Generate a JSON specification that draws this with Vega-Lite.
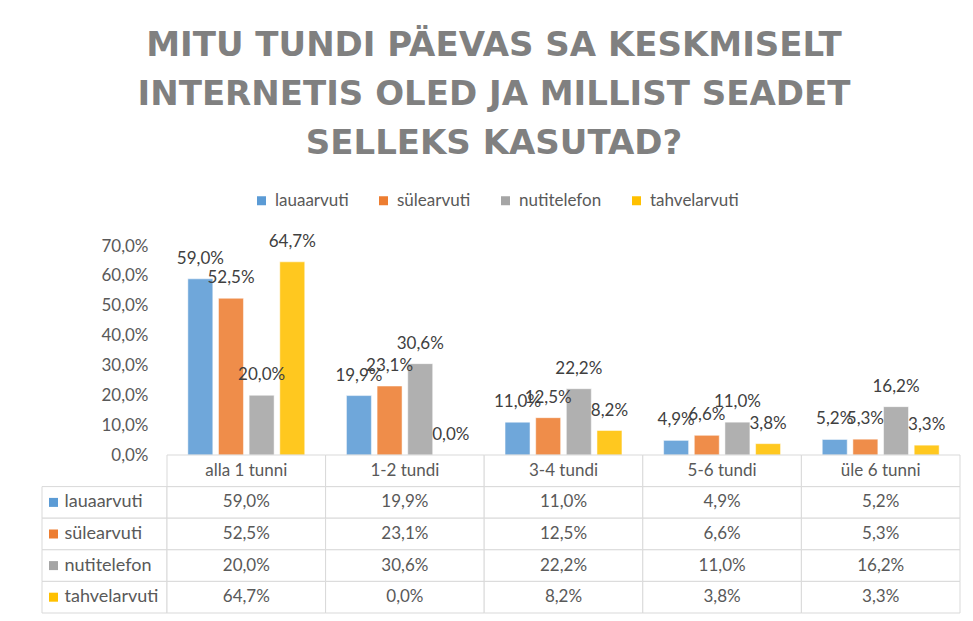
{
  "$schema": "https://vega.github.io/schema/vega-lite/v6.json",
  "background": "white",
  "padding": {"left": 41, "top": 29, "right": 14, "bottom": 9},
  "columns": 2,
  "spacing": 0,
  "bounds": "flush",
  "config": {
    "locale": {"number": {"decimal": ",", "thousands": " ", "grouping": [3], "currency": ["", " €"]}},
    "view": {"stroke": null},
    "font": "Lato"
  },
  "title": {
    "text": ["MITU TUNDI PÄEVAS SA KESKMISELT", "INTERNETIS OLED JA MILLIST SEADET", "SELLEKS KASUTAD?"],
    "font": "DejaVu Sans",
    "fontSize": 34,
    "fontWeight": "bold",
    "color": "#808080",
    "lineHeight": 49,
    "anchor": "middle",
    "dx": -7,
    "offset": 31
  },
  "data": {
    "values": [
      {"cat": "alla 1 tunni", "series": "lauaarvuti", "value": 0.590},
      {"cat": "1-2 tundi", "series": "lauaarvuti", "value": 0.199},
      {"cat": "3-4 tundi", "series": "lauaarvuti", "value": 0.110},
      {"cat": "5-6 tundi", "series": "lauaarvuti", "value": 0.049},
      {"cat": "üle 6 tunni", "series": "lauaarvuti", "value": 0.052},
      {"cat": "alla 1 tunni", "series": "sülearvuti", "value": 0.525},
      {"cat": "1-2 tundi", "series": "sülearvuti", "value": 0.231},
      {"cat": "3-4 tundi", "series": "sülearvuti", "value": 0.125},
      {"cat": "5-6 tundi", "series": "sülearvuti", "value": 0.066},
      {"cat": "üle 6 tunni", "series": "sülearvuti", "value": 0.053},
      {"cat": "alla 1 tunni", "series": "nutitelefon", "value": 0.200},
      {"cat": "1-2 tundi", "series": "nutitelefon", "value": 0.306},
      {"cat": "3-4 tundi", "series": "nutitelefon", "value": 0.222},
      {"cat": "5-6 tundi", "series": "nutitelefon", "value": 0.110},
      {"cat": "üle 6 tunni", "series": "nutitelefon", "value": 0.162},
      {"cat": "alla 1 tunni", "series": "tahvelarvuti", "value": 0.647},
      {"cat": "1-2 tundi", "series": "tahvelarvuti", "value": 0.000},
      {"cat": "3-4 tundi", "series": "tahvelarvuti", "value": 0.082},
      {"cat": "5-6 tundi", "series": "tahvelarvuti", "value": 0.038},
      {"cat": "üle 6 tunni", "series": "tahvelarvuti", "value": 0.033}
    ]
  },
  "concat": [
    {
      "width": 125,
      "height": 209,
      "transform": [{"filter": "false"}],
      "mark": {"type": "rect", "opacity": 0},
      "encoding": {}
    },
    {
      "width": 793,
      "height": 209,
      "encoding": {
        "x": {"field": "cat", "type": "nominal", "scale": {"domain": ["alla 1 tunni", "1-2 tundi", "3-4 tundi", "5-6 tundi", "üle 6 tunni"], "paddingInner": 0, "paddingOuter": 0}, "axis": null},
        "xOffset": {"field": "series", "type": "nominal", "scale": {"domain": ["lauaarvuti", "sülearvuti", "nutitelefon", "tahvelarvuti"], "paddingInner": 0.185, "paddingOuter": 0.68}},
        "y": {"field": "value", "type": "quantitative", "scale": {"domain": [0, 0.7], "nice": false},
          "axis": {"title": null, "format": ".1%", "values": [0, 0.1, 0.2, 0.3, 0.4, 0.5, 0.6, 0.7], "domain": false, "ticks": false, "grid": false, "labelFontSize": 17, "labelColor": "#595959", "labelPadding": 19}}
      },
      "layer": [
        {
          "mark": {"type": "bar", "fillOpacity": 0.88, "stroke": "white", "strokeOpacity": 0.5, "strokeWidth": 1},
          "encoding": {
            "color": {"field": "series", "type": "nominal",
              "scale": {"domain": ["lauaarvuti", "sülearvuti", "nutitelefon", "tahvelarvuti"], "range": ["#5B9BD5", "#ED7D31", "#A5A5A5", "#FFC000"]},
              "legend": {"orient": "none", "legendX": 211, "legendY": -54, "direction": "horizontal", "title": null, "symbolType": "square", "symbolSize": 81, "symbolStrokeWidth": 0, "labelFontSize": 17, "labelColor": "#595959", "columnPadding": 26, "labelOffset": 5}}
          }
        },
        {
          "mark": {"type": "text", "baseline": "alphabetic", "dy": -15, "fontSize": 17, "color": "#404040"},
          "encoding": {"text": {"field": "value", "type": "quantitative", "format": ".1%"}}
        }
      ]
    },
    {
      "width": 125,
      "height": 158,
      "transform": [{"aggregate": [{"op": "count", "as": "n"}], "groupby": ["series"]}],
      "encoding": {
        "y": {"field": "series", "type": "nominal", "scale": {"domain": ["hdr", "lauaarvuti", "sülearvuti", "nutitelefon", "tahvelarvuti"], "paddingInner": 0, "paddingOuter": 0}, "axis": null}
      },
      "layer": [
        {"mark": {"type": "rect", "fill": "white", "stroke": "#D9D9D9", "strokeWidth": 1}},
        {"mark": {"type": "square", "size": 81, "opacity": 1, "filled": true, "xOffset": -51}, "encoding": {"color": {"field": "series", "type": "nominal"}}},
        {"mark": {"type": "text", "align": "left", "dx": -40, "fontSize": 18, "color": "#595959"}, "encoding": {"text": {"field": "series", "type": "nominal"}}}
      ]
    },
    {
      "width": 793,
      "height": 158,
      "encoding": {
        "x": {"field": "cat", "type": "nominal", "scale": {"domain": ["alla 1 tunni", "1-2 tundi", "3-4 tundi", "5-6 tundi", "üle 6 tunni"], "paddingInner": 0, "paddingOuter": 0}, "axis": null}
      },
      "layer": [
        {
          "encoding": {"y": {"field": "series", "type": "nominal", "scale": {"domain": ["hdr", "lauaarvuti", "sülearvuti", "nutitelefon", "tahvelarvuti"], "paddingInner": 0, "paddingOuter": 0}, "axis": null}},
          "layer": [
            {"mark": {"type": "rect", "fill": "white", "stroke": "#D9D9D9", "strokeWidth": 1}},
            {"mark": {"type": "text", "fontSize": 17, "color": "#595959"}, "encoding": {"text": {"field": "value", "type": "quantitative", "format": ".1%"}}}
          ]
        },
        {
          "transform": [{"aggregate": [{"op": "count", "as": "n"}], "groupby": ["cat"]}],
          "encoding": {"y": {"datum": "hdr", "type": "nominal"}},
          "layer": [
            {"mark": {"type": "rect", "fill": "white", "stroke": "#D9D9D9", "strokeWidth": 1}},
            {"mark": {"type": "text", "fontSize": 17, "color": "#595959"}, "encoding": {"text": {"field": "cat", "type": "nominal"}}}
          ]
        }
      ]
    }
  ]
}
